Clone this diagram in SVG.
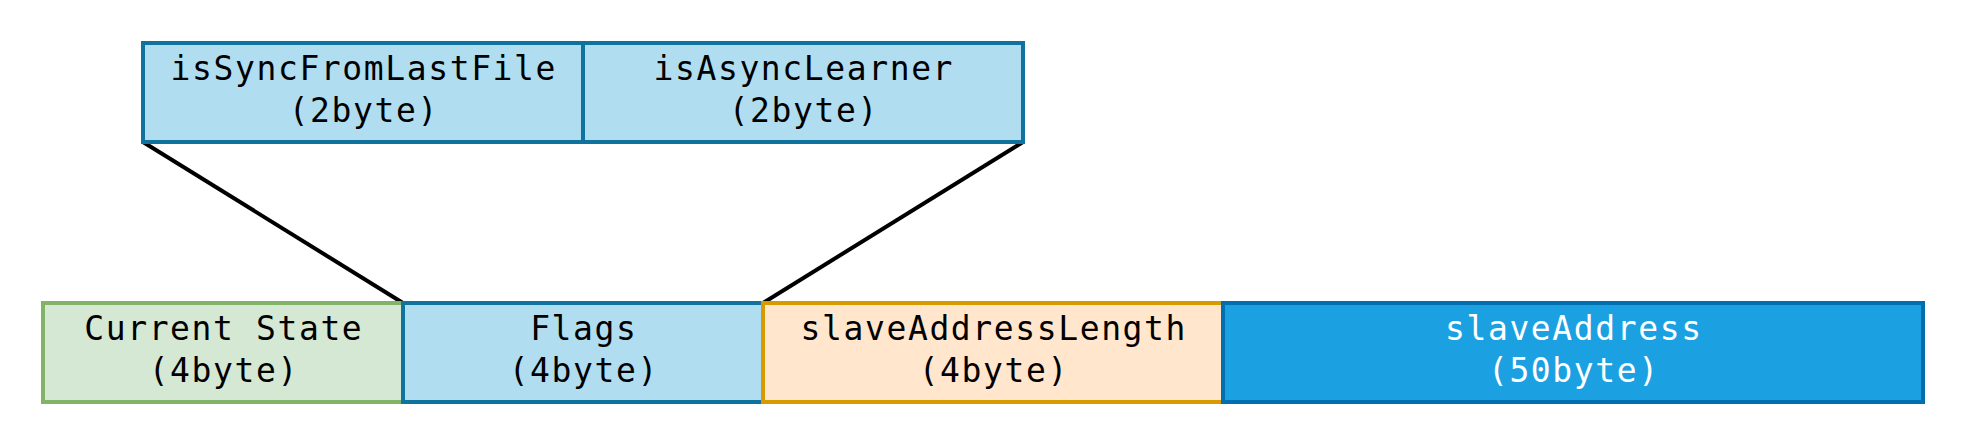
<svg xmlns="http://www.w3.org/2000/svg" width="1964" height="444" viewBox="0 0 1964 444">
<style>
rect{stroke-width:4}
.t{font-family:"DejaVu Sans Mono","Liberation Mono",monospace;font-size:33px;letter-spacing:1.6px;text-anchor:middle;fill:#000}
.w{fill:#fff}
.lb{fill:#b1ddf0;stroke:#10739e}
.gr{fill:#d5e8d4;stroke:#82b366}
.or{fill:#ffe6cc;stroke:#d79b00}
.db{fill:#1ba1e2;stroke:#006eaf}
.c{stroke:#000;stroke-width:4;fill:none}
</style>
<rect width="1964" height="444" fill="#fff"/>
<g id="connectors">
<line class="c" x1="143" y1="142" x2="403" y2="303"/>
<line class="c" x1="1023" y1="142" x2="763" y2="303"/>
</g>
<g id="isSyncFromLastFile">
<rect class="lb" x="143" y="43" width="440" height="99"/>
<text class="t" x="363.8" y="80">isSyncFromLastFile</text>
<text class="t" x="363.8" y="122">(2byte)</text>
</g>
<g id="isAsyncLearner">
<rect class="lb" x="583" y="43" width="440" height="99"/>
<text class="t" x="803.8" y="80">isAsyncLearner</text>
<text class="t" x="803.8" y="122">(2byte)</text>
</g>
<g id="currentState">
<rect class="gr" x="43" y="303" width="360" height="99"/>
<text class="t" x="223.8" y="340">Current State</text>
<text class="t" x="223.8" y="382">(4byte)</text>
</g>
<g id="flags">
<rect class="lb" x="403" y="303" width="360" height="99"/>
<text class="t" x="583.8" y="340">Flags</text>
<text class="t" x="583.8" y="382">(4byte)</text>
</g>
<g id="slaveAddressLength">
<rect class="or" x="763" y="303" width="460" height="99"/>
<text class="t" x="993.8" y="340">slaveAddressLength</text>
<text class="t" x="993.8" y="382">(4byte)</text>
</g>
<g id="slaveAddress">
<rect class="db" x="1223" y="303" width="700" height="99"/>
<text class="t w" x="1573.8" y="340">slaveAddress</text>
<text class="t w" x="1573.8" y="382">(50byte)</text>
</g>
</svg>
